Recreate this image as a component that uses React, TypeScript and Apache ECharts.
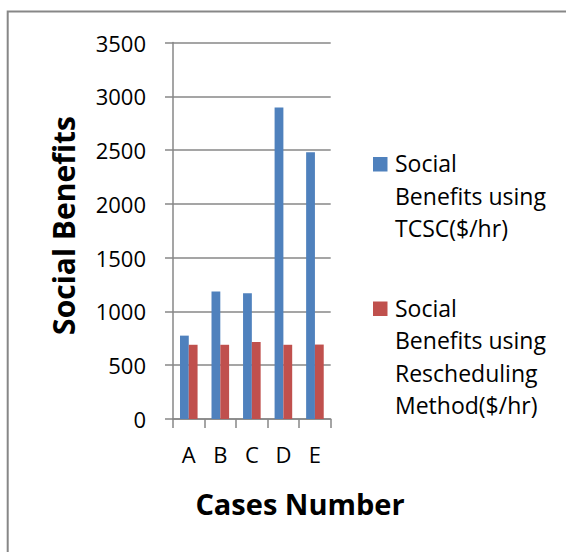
import React, { useEffect, useRef } from "react";
import * as echarts from "echarts";

const categories = ["A", "B", "C", "D", "E"];
const seriesNames = [
  "Social Benefits using TCSC($/hr)",
  "Social Benefits using Rescheduling Method($/hr)",
];
const legendLabels = [
  "Social\nBenefits using\nTCSC($/hr)",
  "Social\nBenefits using\nRescheduling\nMethod($/hr)",
];
const tcscValues = [775, 1185, 1170, 2895, 2480];
const reschedulingValues = [690, 690, 715, 690, 692];
const seriesColors = ["#4F81BD", "#C0504D"];
const yMin = 0;
const yMax = 3500;
const yInterval = 500;
const yTitle = "Social Benefits";
const xTitle = "Cases Number";

const FONT = "'Open Sans', 'Noto Sans', sans-serif";
const GRAY = "#878787";

export default function App() {
  const ref = useRef<HTMLDivElement>(null);

  useEffect(() => {
    if (!ref.current) return;
    const chart = echarts.init(ref.current, undefined, { renderer: "svg" });
    const option: any = {
      animation: false,
      backgroundColor: "#ffffff",
      grid: { left: 173, right: 235.3, top: 42.5, bottom: 133 },
      xAxis: {
        type: "category",
        data: categories,
        axisLine: { show: true, lineStyle: { color: GRAY, width: 1.5 } },
        axisTick: { show: true, length: 9, lineStyle: { color: GRAY, width: 1.5 } },
        axisLabel: { fontSize: 22, color: "#000", margin: 24, fontFamily: FONT },
        splitLine: { show: false },
      },
      yAxis: {
        type: "value",
        min: yMin,
        max: yMax,
        interval: yInterval,
        axisLine: { show: true, lineStyle: { color: GRAY, width: 1.5 } },
        axisTick: { show: true, length: 8, lineStyle: { color: GRAY, width: 1.5 } },
        axisLabel: {
          fontSize: 22,
          color: "#000",
          margin: 27,
          fontFamily: FONT,
          formatter: (v: number) => String(v),
        },
        splitLine: { show: true, lineStyle: { color: GRAY, width: 1.5 } },
      },
      series: [
        {
          name: seriesNames[0],
          type: "bar",
          data: tcscValues,
          barWidth: 8.8,
          barGap: "0%",
          itemStyle: { color: seriesColors[0] },
        },
        {
          name: seriesNames[1],
          type: "bar",
          data: reschedulingValues,
          barWidth: 8.8,
          barGap: "0%",
          itemStyle: { color: seriesColors[1] },
        },
      ],
      graphic: [
        {
          type: "rect",
          shape: { x: 7.7, y: 11.5, width: 700, height: 700 },
          style: { fill: "none", stroke: GRAY, lineWidth: 2 },
          silent: true,
        },
        {
          type: "text",
          x: 63,
          y: 225.5,
          rotation: Math.PI / 2,
          style: {
            text: yTitle,
            fontSize: 30,
            fontWeight: "bold",
            fontFamily: FONT,
            fill: "#000",
            align: "center",
            verticalAlign: "middle",
          },
        },
        {
          type: "text",
          x: 300,
          y: 503,
          style: {
            text: xTitle,
            fontSize: 29,
            fontWeight: "bold",
            fontFamily: FONT,
            fill: "#000",
            align: "center",
            verticalAlign: "middle",
          },
        },
        {
          type: "rect",
          shape: { x: 373, y: 157, width: 14.5, height: 14.5 },
          style: { fill: seriesColors[0] },
        },
        {
          type: "text",
          x: 395,
          y: 147,
          style: {
            text: legendLabels[0],
            fontSize: 23,
            lineHeight: 32.5,
            fontFamily: FONT,
            fill: "#000",
            align: "left",
            verticalAlign: "top",
          },
        },
        {
          type: "rect",
          shape: { x: 373, y: 301.5, width: 14.5, height: 14.5 },
          style: { fill: seriesColors[1] },
        },
        {
          type: "text",
          x: 395,
          y: 291.5,
          style: {
            text: legendLabels[1],
            fontSize: 23,
            lineHeight: 32.5,
            fontFamily: FONT,
            fill: "#000",
            align: "left",
            verticalAlign: "top",
          },
        },
      ],
    };
    chart.setOption(option);
    return () => chart.dispose();
  }, []);

  return (
    <div
      ref={ref}
      style={{ position: "absolute", left: 0, top: 0, width: 566, height: 552, background: "#fff" }}
    />
  );
}
